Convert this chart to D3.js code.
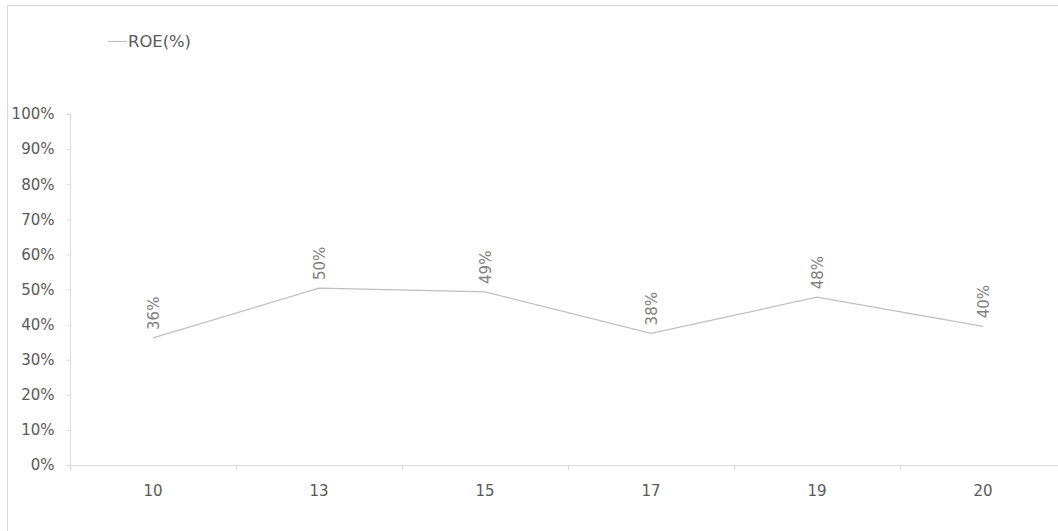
<!DOCTYPE html>
<html><head><meta charset="utf-8">
<script src="https://cdn.jsdelivr.net/npm/d3@7"></script>
<style>
html,body{margin:0;padding:0;background:#fff;}
svg{display:block;font-family:Verdana,"DejaVu Sans",sans-serif;}
</style></head>
<body><svg id="c" width="1058" height="531"></svg>
<script>
const categories = ["10","13","15","17","19","20"];
const seriesName = "ROE(%)";
const roe = [0.362, 0.504, 0.493, 0.375, 0.478, 0.395];
const yTicks = [0,0.1,0.2,0.3,0.4,0.5,0.6,0.7,0.8,0.9,1.0];

(function(){
const svg = d3.select("#c");
// outer frame
svg.append("rect").attr("x",7.5).attr("y",5.5).attr("width",1200).attr("height",700)
  .attr("fill","none").attr("stroke","#d9d9d9").attr("stroke-width",1);

const pL = 70, pR = 1066, pT = 114, pB = 465;
const x = d3.scaleBand().domain(categories).range([pL,pR]);
const y = d3.scaleLinear().domain([0,1]).range([pB,pT]);

// y axis
const ya = svg.append("g").attr("transform",`translate(${pL+0.5},0)`)
  .call(d3.axisLeft(y).tickValues(yTicks).tickFormat(d3.format(".0%")).tickSize(4).tickPadding(12));
ya.select(".domain").attr("stroke","#d9d9d9").attr("d",`M-4,${pT}H0V${pB}`);
ya.selectAll(".tick line").attr("stroke","#d9d9d9");
ya.selectAll(".tick text").attr("fill","#595959").attr("font-size","15px")
  .attr("font-family","Verdana,'DejaVu Sans',sans-serif");

// x axis
const xa = svg.append("g").attr("transform",`translate(0,${pB+0.5})`)
  .call(d3.axisBottom(x).tickSize(0).tickPadding(20));
xa.select(".domain").attr("stroke","#d9d9d9").attr("d",`M${pL},0H${pR}`);
xa.selectAll(".tick text").attr("fill","#595959").attr("font-size","15px")
  .attr("font-family","Verdana,'DejaVu Sans',sans-serif");
// category boundary ticks
const bounds = categories.map(c => x(c)).concat([pR]);
svg.append("g").selectAll("line").data(bounds).join("line")
  .attr("x1",d=>Math.round(d)+0.5).attr("x2",d=>Math.round(d)+0.5)
  .attr("y1",pB).attr("y2",pB+5)
  .attr("stroke","#d9d9d9");

// line
const cx = d => x(d) + x.bandwidth()/2;
const line = d3.line().x((d,i)=>cx(categories[i])).y(d=>y(d));
svg.append("path").datum(roe).attr("d",line)
  .attr("fill","none").attr("stroke","#bfbfbf").attr("stroke-width",1.2);

// data labels
svg.append("g").selectAll("text").data(roe).join("text")
  .attr("transform",(d,i)=>`translate(${cx(categories[i])+1},${y(d)-8}) rotate(-90)`)
  .attr("text-anchor","start").attr("dominant-baseline","central")
  .attr("fill","#808080").attr("font-size","15px")
  .text(d=>d3.format(".0%")(d));

// legend
svg.append("line").attr("x1",108).attr("x2",127).attr("y1",41.5).attr("y2",41.5)
  .attr("stroke","#bfbfbf").attr("stroke-width",1.2);
svg.append("text").attr("x",128).attr("y",41.5).attr("dominant-baseline","central")
  .attr("fill","#595959").attr("font-size","16.4px").text(seriesName);
})();
</script></body></html>
